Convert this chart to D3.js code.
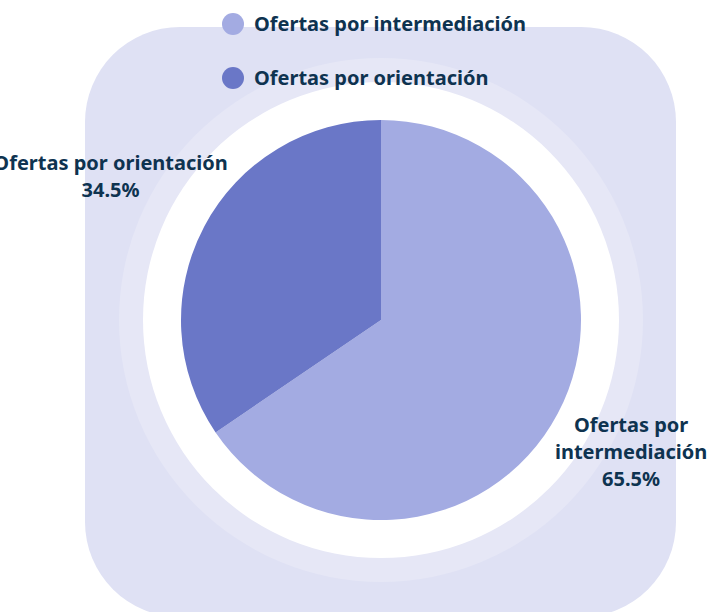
<!DOCTYPE html>
<html>
<head>
<meta charset="utf-8">
<script src="https://cdn.jsdelivr.net/npm/d3@7"></script>
<style>
  body { margin: 0; background: #ffffff; }
  svg text { font-family: "Noto Sans", "Open Sans", sans-serif; font-weight: 700; fill: #0e3350; }
</style>
</head>
<body>
<svg id="chart" width="713" height="612"></svg>
<script>
// data
var categories = ["Ofertas por intermediación", "Ofertas por orientación"];
var values = [65.5, 34.5];
var colors = ["#a3abe2", "#6a77c7"];
var labelLines = [["Ofertas por", "intermediación"], ["Ofertas por orientación"]];

var svg = d3.select("#chart"),
    width = 713,
    height = 612,
    cx = 381,
    cy = 320,
    radius = 200;

// background panel
svg.append("rect")
    .attr("x", 85)
    .attr("y", 27)
    .attr("width", 591)
    .attr("height", 590)
    .attr("rx", 95)
    .attr("ry", 95)
    .attr("fill", "#dfe1f4");

var g = svg.append("g").attr("transform", "translate(" + cx + "," + cy + ")");

// rings behind the pie
g.append("circle").attr("r", 262).attr("fill", "#e6e7f6");
g.append("circle").attr("r", 238).attr("fill", "#ffffff");

var pie = d3.pie().sort(null).value(function (d) { return d; });
var arc = d3.arc().innerRadius(0).outerRadius(radius);
var arcs = pie(values);

g.selectAll("path.slice")
    .data(arcs)
    .enter().append("path")
    .attr("class", "slice")
    .attr("fill", function (d, i) { return colors[i]; })
    .attr("d", arc);

// labels, pushed out past the ring
var labelRadius = [283, 306];
var lineH = 27;
arcs.forEach(function (d, i) {
    var la = d3.arc().innerRadius(labelRadius[i]).outerRadius(labelRadius[i]);
    var c = la.centroid(d);
    var lines = labelLines[i].concat([d3.format(".1f")(values[i]) + "%"]);
    var y0 = c[1] - (lines.length - 1) * lineH / 2;
    var t = g.append("text")
        .attr("text-anchor", "middle")
        .style("font-size", "20px");
    lines.forEach(function (s, k) {
        t.append("tspan")
            .attr("x", c[0])
            .attr("y", y0 + k * lineH)
            .attr("dy", "0.35em")
            .text(s);
    });
});

// legend
var legend = svg.append("g");
categories.forEach(function (name, i) {
    var ly = 24 + i * 54;
    legend.append("circle")
        .attr("cx", 233)
        .attr("cy", ly)
        .attr("r", 11)
        .attr("fill", colors[i]);
    legend.append("text")
        .attr("x", 254)
        .attr("y", ly)
        .attr("dy", "0.35em")
        .style("font-size", "20px")
        .text(name);
});
</script>
</body>
</html>
